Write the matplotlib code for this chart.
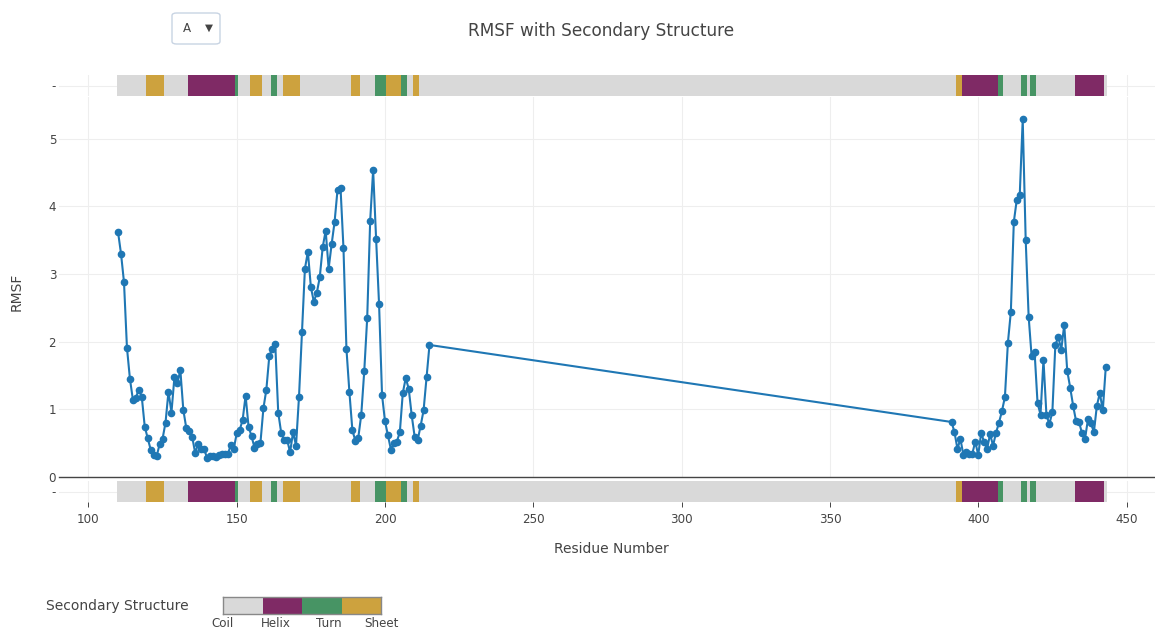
import numpy as np
import matplotlib
matplotlib.use("Agg")
import matplotlib.pyplot as plt
from matplotlib.colors import ListedColormap
from matplotlib.patches import FancyBboxPatch

plt.rcParams['font.family'] = ['DejaVu Sans']

# residues present in the RMSF file (gap 216-390)
residues = list(range(110, 216)) + list(range(391, 444))

rmsf = [
    3.62, 3.30, 2.88, 1.91, 1.45, 1.14, 1.17, 1.29, 1.18, 0.74,
    0.57, 0.40, 0.32, 0.30, 0.48, 0.56, 0.80, 1.26, 0.95, 1.47,
    1.38, 1.58, 0.99, 0.72, 0.68, 0.59, 0.35, 0.49, 0.41, 0.41,
    0.28, 0.30, 0.30, 0.29, 0.32, 0.34, 0.33, 0.33, 0.47, 0.41,
    0.64, 0.69, 0.84, 1.20, 0.74, 0.60, 0.43, 0.48, 0.50, 1.01,
    1.29, 1.79, 1.89, 1.96, 0.95, 0.65, 0.54, 0.55, 0.36, 0.66,
    0.46, 1.18, 2.14, 3.08, 3.33, 2.81, 2.59, 2.72, 2.95, 3.40,
    3.64, 3.08, 3.44, 3.77, 4.25, 4.28, 3.38, 1.89, 1.25, 0.69,
    0.53, 0.58, 0.92, 1.56, 2.35, 3.79, 4.54, 3.52, 2.55, 1.21,
    0.82, 0.61, 0.40, 0.50, 0.52, 0.66, 1.24, 1.46, 1.30, 0.91,
    0.59, 0.54, 0.75, 0.98, 1.47, 1.95,
    0.81, 0.66, 0.41, 0.56, 0.32, 0.37, 0.34, 0.34, 0.52, 0.32,
    0.65, 0.51, 0.41, 0.63, 0.46, 0.65, 0.80, 0.97, 1.18, 1.98,
    2.44, 3.77, 4.10, 4.17, 5.29, 3.51, 2.37, 1.78, 1.85, 1.09,
    0.92, 1.73, 0.91, 0.78, 0.96, 1.95, 2.07, 1.88, 2.25, 1.57,
    1.32, 1.05, 0.82, 0.81, 0.64, 0.56, 0.85, 0.79, 0.66, 1.05,
    1.24, 0.98, 1.62,
]

# secondary structure per residue: C coil, H helix, T turn, E sheet
ss = ("CCCCCCCCCC" "EEEEEE" "CCCCCCCC" "HHHHHHHHHHHHHHHH" "T" "CCCC" "EEEE"
      "CCC" "TT" "CC" "EEEEEE" "CCCCCCCCCCCCCCCCC" "EEE" "CCCCC" "TTTT"
      "EEEEE" "TT" "CC" "EE" "CCCC"
      "CC" "EE" "HHHHHHHHHHHH" "TT" "CCCCCC" "TT" "C" "TT"
      "CCCCCCCCCCCCC" "HHHHHHHHHH" "C")

ss_names = ["Coil", "Helix", "Turn", "Sheet"]
ss_codes = ["C", "H", "T", "E"]
ss_colors = ["#d9d9d9", "#7f2a65", "#479464", "#cda23e"]

W, H = 1155, 632
TXT = "#444444"
GRID = "#eeeeee"


def px_box(left, top, right, bottom):
    return [left / W, 1 - bottom / H, (right - left) / W, (bottom - top) / H]


x = np.array(residues, dtype=float)
y = np.array(rmsf)
codes = np.array([ss_codes.index(c) for c in ss])
edges = np.concatenate([[x[0] - 0.5], (x[:-1] + x[1:]) / 2, [x[-1] + 0.5]])
cmap = ListedColormap(ss_colors)

xlim = (90.09, 459.6)
xticks = [100, 150, 200, 250, 300, 350, 400, 450]

fig = plt.figure(figsize=(W / 100, H / 100), dpi=100)

ax_top = fig.add_axes(px_box(59, 75, 1155, 96))
ax_main = fig.add_axes(px_box(59, 97, 1155, 476.7))
ax_bot = fig.add_axes(px_box(59, 481, 1155, 502))

for ax in (ax_top, ax_bot):
    ax.pcolormesh(edges, [-0.5, 0.5], codes[np.newaxis, :], cmap=cmap,
                  vmin=-0.5, vmax=3.5, zorder=2)
    ax.set_ylim(-0.5, 0.5)
    ax.set_yticks([0])
    ax.set_yticklabels(["-"])

for ax in (ax_top, ax_main, ax_bot):
    ax.set_xlim(*xlim)
    ax.set_xticks(xticks)
    ax.grid(True, color=GRID, linewidth=0.8, zorder=0)
    ax.set_axisbelow(True)
    for s in ax.spines.values():
        s.set_visible(False)
    ax.tick_params(axis="y", length=0, pad=2, labelsize=8.6, labelcolor=TXT)
    ax.tick_params(axis="x", length=0, labelbottom=False)

ax_bot.tick_params(axis="x", length=3.6, width=0.7, color=TXT, direction="out",
                   labelbottom=True, labelsize=8.6, labelcolor=TXT, pad=4)

ax_main.plot(x, y, color="#1f77b4", linewidth=1.5, marker="o",
             markersize=4.5, zorder=3)
ax_main.set_ylim(0, 5.62)
ax_main.set_yticks([0, 1, 2, 3, 4, 5])
ax_main.spines["bottom"].set_visible(True)
ax_main.spines["bottom"].set_color(TXT)
ax_main.spines["bottom"].set_linewidth(1.0)

fig.text(601.5 / W, 1 - 31.5 / H, "RMSF with Secondary Structure",
         ha="center", va="center", fontsize=12.2, color=TXT)
fig.text(611 / W, 1 - 549 / H, "Residue Number", ha="center", va="center",
         fontsize=10, color=TXT)
fig.text(17 / W, 1 - 292 / H, "RMSF", ha="center", va="center",
         rotation=90, fontsize=10, color=TXT)

# dropdown
box = FancyBboxPatch((172 / W, 1 - 44 / H), 48 / W, 31 / H,
                     boxstyle="round,pad=0,rounding_size=0.004",
                     transform=fig.transFigure, facecolor="white",
                     edgecolor="#c8d4e3", linewidth=1.0)
fig.patches.append(box)
fig.text(187 / W, 1 - 28.5 / H, "A", ha="center", va="center",
         fontsize=8.6, color=TXT)
fig.text(209 / W, 1 - 27.5 / H, "\u25bc", ha="center", va="center",
         fontsize=7.5, color=TXT)

# secondary structure legend (colorbar)
fig.text(189 / W, 1 - 606 / H, "Secondary Structure", ha="right",
         va="center", fontsize=10, color=TXT)
ax_leg = fig.add_axes(px_box(223, 597, 381, 614))
ax_leg.pcolormesh(np.linspace(0, 3, len(ss_names) + 1), [0, 1],
                  np.arange(len(ss_names))[np.newaxis, :], cmap=cmap,
                  vmin=-0.5, vmax=3.5)
ax_leg.set_xlim(0, 3)
ax_leg.set_ylim(0, 1)
ax_leg.set_yticks([])
ax_leg.set_xticks(range(len(ss_names)))
ax_leg.set_xticklabels(ss_names)
ax_leg.tick_params(axis="x", length=0, pad=2, labelsize=8.6, labelcolor=TXT)
for s in ax_leg.spines.values():
    s.set_color("#888888")
    s.set_linewidth(1.0)

fig.savefig("out.png", dpi=100)
